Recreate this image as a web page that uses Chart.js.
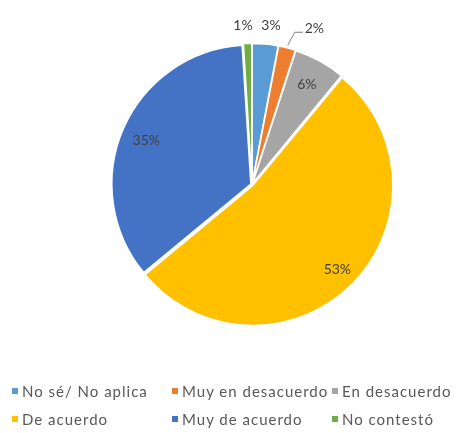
<!DOCTYPE html>
<html>
<head>
<meta charset="utf-8">
<script src="https://cdn.jsdelivr.net/npm/chart.js@4.4.1/dist/chart.umd.min.js"></script>
<style>
  html, body { margin: 0; padding: 0; background: #fff; }
  #wrap { position: relative; width: 465px; height: 433px; overflow: hidden; }
  #pie { position: absolute; left: 0; top: 0; }
  #legend {
    position: absolute; left: 12px; top: 381px;
    display: grid; grid-template-columns: 160px 160px 140px; row-gap: 8px;
    font-family: Lato, "Open Sans", sans-serif; font-size: 15px; color: #595959;
    letter-spacing: 1px;
  }
  #legend div { display: flex; align-items: center; white-space: nowrap; height: 20px; }
  #legend span.box { width: 6px; height: 6px; margin-right: 4px; display: inline-block; }
</style>
</head>
<body>
<div id="wrap">
  <canvas id="pie" width="465" height="433"></canvas>
  <div id="legend"></div>
</div>
<script>
const categories = ["No sé/ No aplica", "Muy en desacuerdo", "En desacuerdo", "De acuerdo", "Muy de acuerdo", "No contestó"];
const percents = [3, 2, 6, 53, 35, 1];
const colors = ["#5B9BD5", "#ED7D31", "#A5A5A5", "#FFC000", "#4472C4", "#70AD47"];

// where each percentage sits: fraction of the radius, small nudges, leader line
const labelPlacement = [
  { r: 1.15, dx: 4, dy: 0 },
  { leader: true },
  { r: 0.82, dx: 0, dy: 0 },
  { r: 0.87, dx: 0, dy: 0 },
  { r: 0.83, dx: 0, dy: 2 },
  { r: 1.15, dx: -4, dy: 0 }
];

const pctLabels = {
  id: "pctLabels",
  afterDatasetsDraw(chart) {
    const ctx = chart.ctx;
    const arcs = chart.getDatasetMeta(0).data;
    ctx.save();
    ctx.font = "14px Lato, 'Open Sans', sans-serif";
    ctx.fillStyle = "#404040";
    ctx.textBaseline = "middle";
    arcs.forEach((arc, i) => {
      const p = labelPlacement[i];
      const mid = (arc.startAngle + arc.endAngle) / 2;
      const cx = arc.x, cy = arc.y, R = arc.outerRadius;
      const text = percents[i] + "%";
      if (p.leader) {
        const x0 = cx + Math.cos(mid) * (R + 5);
        const y0 = cy + Math.sin(mid) * (R + 5);
        const x1 = x0 + 7, y1 = y0 - 13;
        ctx.strokeStyle = "#7f7f7f";
        ctx.lineWidth = 1;
        ctx.beginPath();
        ctx.moveTo(x0, y0);
        ctx.lineTo(x1, y1);
        ctx.lineTo(x1 + 8, y1);
        ctx.stroke();
        ctx.textAlign = "left";
        ctx.fillText(text, x1 + 10, y1 - 4);
      } else {
        ctx.textAlign = "center";
        ctx.fillText(text, cx + Math.cos(mid) * R * p.r + p.dx, cy + Math.sin(mid) * R * p.r + p.dy);
      }
    });
    ctx.restore();
  }
};

new Chart(document.getElementById("pie"), {
  type: "pie",
  data: {
    labels: categories,
    datasets: [{
      data: percents,
      backgroundColor: colors,
      borderColor: "#ffffff",
      borderWidth: 1.5,
      offset: 5
    }]
  },
  options: {
    responsive: false,
    animation: false,
    layout: { padding: { left: 110, right: 71, top: 42, bottom: 106 } },
    plugins: { legend: { display: false }, tooltip: { enabled: false } }
  },
  plugins: [pctLabels]
});

// legend in the same order, three items per row
const legend = document.getElementById("legend");
categories.forEach((name, i) => {
  const item = document.createElement("div");
  const box = document.createElement("span");
  box.className = "box";
  box.style.background = colors[i];
  item.appendChild(box);
  item.appendChild(document.createTextNode(name));
  legend.appendChild(item);
});
</script>
</body>
</html>
